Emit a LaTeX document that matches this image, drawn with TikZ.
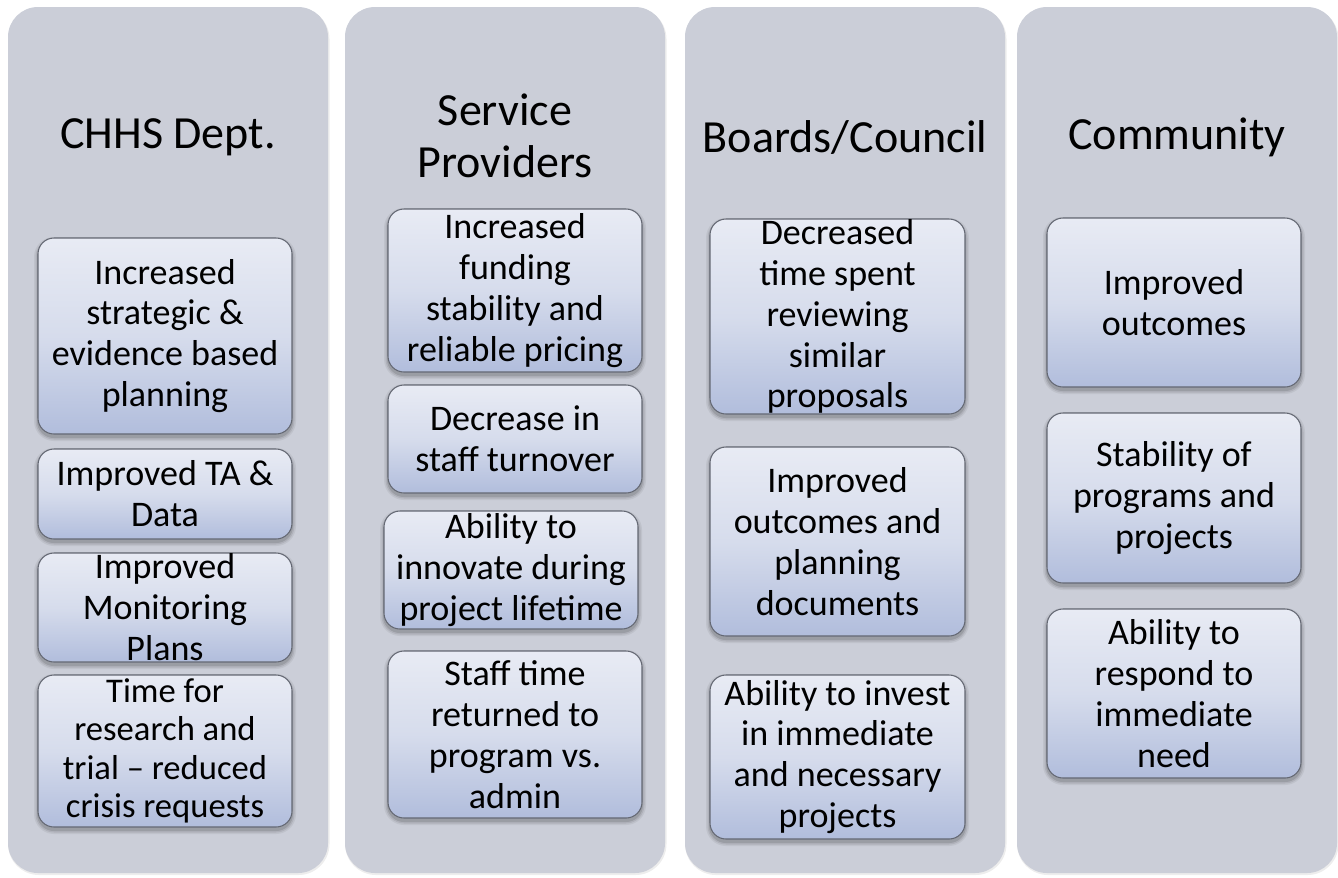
\documentclass[tikz,border=0pt]{standalone}
\usepackage{fontspec}
\setmainfont{Carlito}

\definecolor{panelgray}{HTML}{CBCED8}
\definecolor{boxtop}{HTML}{E8EBF4}
\definecolor{boxmid}{HTML}{D6DCEC}
\definecolor{boxbot}{HTML}{B1BDDC}
\definecolor{boxline}{HTML}{646873}
\colorlet{shadowa}{panelgray!94!black}
\colorlet{shadowb}{panelgray!86!black}
\colorlet{shadowc}{panelgray!76!black}

\def \px {0.02cm}
\def \panelw {320}
\def \panelh {866}

\tikzstyle{panel}=[rounded corners=0.6cm, fill=panelgray, inner sep=0,
    minimum width=\panelw*\px, minimum height=\panelh*\px]
\tikzstyle{heading}=[align=center, inner sep=0, font=\fontsize{26.2}{29.6}\selectfont]
\tikzstyle{outbox}=[draw=boxline, line width=0.6pt, rounded corners=0.32cm, inner sep=0,
    top color=boxtop, bottom color=boxbot, middle color=boxmid]
\tikzstyle{outtext}=[align=center, inner sep=0, font=\fontsize{20.5}{23.3}\selectfont]

% [text opts]{name}{x}{y}{width}{height}{text}, all in px
\newcommand{\outcome}[7][]{%
    % soft shadow, drawn in solid layers
    \foreach \g/\c in {4/shadowa, 2.5/shadowb, 1/shadowc}
        \fill[\c, rounded corners={0.32cm+\g*\px}]
            ({#3-#5/2-\g}, {#4-#6/2+3-\g}) rectangle ({#3+#5/2+\g}, {#4+#6/2+3+\g});
    \node[outbox, minimum width=#5*\px, minimum height=#6*\px] (#2) at (#3,#4) {};
    \node[outtext, #1] (#2-t) at (#2.center) {#7};
}

\begin{document}
\begin{tikzpicture}[x=0.02cm, y=-0.02cm]

\useasboundingbox (0,0) rectangle (1338,877);

\foreach \x [count=\i] in {168, 505, 845, 1177} {
    \fill[black!7, rounded corners=0.62cm] ({\x-\panelw/2}, 8) rectangle ({\x+\panelw/2+1.5}, {440+\panelh/2+2});
    \node[panel] (p\i) at (\x, 440) {};
}

\node[heading] (t1) at (168, 137) {CHHS Dept.};
\node[heading] (t2) at (505, 136) {Service\\Providers};
\node[heading] (t3) at (845, 137) {Boards/Council};
\node[heading] (t4) at (1177, 137) {Community};

% CHHS Dept.
\outcome{c1b1}{165}{336}{254}{196}{Increased\\strategic \&\\evidence based\\planning}
\outcome{c1b2}{165}{494}{254}{90}{Improved TA \&\\Data}
\outcome{c1b3}{165}{607.5}{254}{109}{Improved\\Monitoring\\Plans}
\outcome[font=\fontsize{19.7}{21.8}\selectfont]{c1b4}{165}{751}{254}{152}{Time for\\research and\\trial – reduced\\crisis requests}

% Service Providers
\outcome{c2b1}{515}{290.5}{254}{163}{Increased\\funding\\stability and\\reliable pricing}
\outcome{c2b2}{515}{439}{254}{108}{Decrease in\\staff turnover}
\outcome{c2b3}{511}{570}{254}{118}{Ability to\\innovate during\\project lifetime}
\outcome{c2b4}{515}{734.5}{254}{167}{Staff time\\returned to\\program vs.\\admin}

% Boards/Council
\outcome{c3b1}{837.5}{316.5}{255}{195}{Decreased\\time spent\\reviewing\\similar\\proposals}
\outcome{c3b2}{837.5}{541.5}{255}{189}{Improved\\outcomes and\\planning\\documents}
\outcome{c3b3}{837.5}{757}{255}{164}{Ability to invest\\in immediate\\and necessary\\projects}

% Community
\outcome{c4b1}{1174}{302.5}{254}{169}{Improved\\outcomes}
\outcome{c4b2}{1174}{498}{254}{170}{Stability of\\programs and\\projects}
\outcome{c4b3}{1174}{693.5}{254}{169}{Ability to\\respond to\\immediate\\need}

\end{tikzpicture}
\end{document}
